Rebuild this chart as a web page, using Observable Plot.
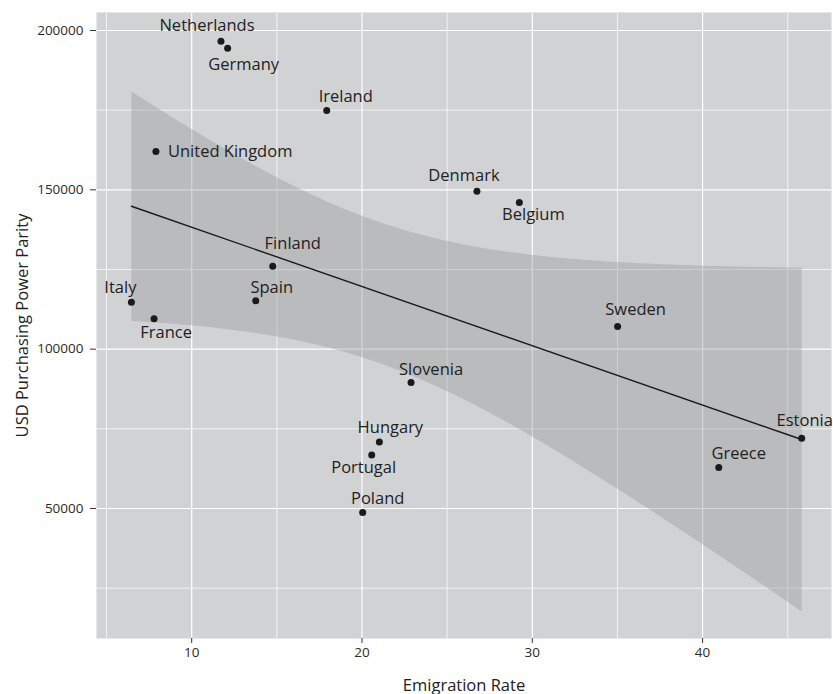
<!DOCTYPE html>
<html>
<head>
<meta charset="utf-8">
<script src="https://cdn.jsdelivr.net/npm/d3@7"></script>
<script src="https://cdn.jsdelivr.net/npm/@observablehq/plot@0.6"></script>
<style>
  html, body { margin: 0; padding: 0; background: #fff; }
  #chart svg { display: block; }
</style>
</head>
<body>
<div id="chart"></div>
<script>
const countries = ["Netherlands","Germany","Ireland","United Kingdom","Finland","Spain","Italy","France","Denmark","Belgium","Sweden","Slovenia","Hungary","Portugal","Poland","Estonia","Greece"];
const emigrationRate = [11.72,12.11,17.93,7.90,14.76,13.76,6.46,7.79,26.75,29.24,35.01,22.88,21.02,20.57,20.04,45.82,40.95];
const ppp = [196640,194440,174890,162020,126020,115160,114720,109510,149560,146010,107100,89510,70900,66820,48710,72030,62840];
const xTicks = [10,20,30,40];
const xMinor = [5,15,25,35,45];
const yTicks = [50000,100000,150000,200000];
const yMinor = [25000,75000,125000,175000];
const xTitle = "Emigration Rate";
const yTitle = "USD Purchasing Power Parity";

// label offsets (pixels) relative to each point
const labelDx = [-14,16,19,12,20,16,-11,12,-13,14,18,20,11,-8,15,3,20];
const labelDy = [-15,16,-14,0,-23,-13,-15,14,-16,12,-17,-13,-14,13,-14,-18,-14];
const labelAnchor = countries.map(c => c === "United Kingdom" ? "start" : "middle");

const data = countries.map((c, i) => ({country: c, x: emigrationRate[i], y: ppp[i]}));

const font = "'Open Sans', 'DejaVu Sans', sans-serif";

const labelMarks = data.map((d, i) => Plot.text([d], {
  x: "x", y: "y", text: "country",
  dx: labelDx[i], dy: labelDy[i],
  textAnchor: labelAnchor[i],
  fill: "#222222", fontSize: 16.5, fontFamily: font
}));

const chart = Plot.plot({
  width: 833,
  height: 694,
  marginLeft: 96,
  marginTop: 12,
  marginRight: 2,
  marginBottom: 56,
  style: {fontFamily: font, fontSize: "13px", color: "#2a2a2a", background: "#fff"},
  x: {domain: [4.41, 47.57], label: null},
  y: {domain: [9200, 205650], label: null},
  marks: [
    Plot.frame({fill: "#d1d2d4", stroke: null}),
    Plot.gridX(xMinor, {stroke: "#f2f2f2", strokeOpacity: 1, strokeWidth: 1}),
    Plot.gridY(yMinor, {stroke: "#f2f2f2", strokeOpacity: 1, strokeWidth: 1}),
    Plot.gridX(xTicks, {stroke: "#ffffff", strokeOpacity: 1, strokeWidth: 1.2}),
    Plot.gridY(yTicks, {stroke: "#ffffff", strokeOpacity: 1, strokeWidth: 1.2}),
    Plot.linearRegressionY(data, {x: "x", y: "y", ci: 0.95, stroke: "#1a1a1a", strokeWidth: 1.4, fill: "#999999", fillOpacity: 0.4}),
    Plot.dot(data, {x: "x", y: "y", r: 3.5, fill: "#1a1a1a", stroke: null}),
    ...labelMarks,
    Plot.axisX(xTicks, {tickSize: 5, tickPadding: 4, fontSize: 13.5, stroke: "#333", label: xTitle, labelArrow: "none", labelAnchor: "center", labelOffset: 52, tickFormat: d => String(d)}),
    Plot.axisY(yTicks, {tickSize: 6, tickPadding: 7, fontSize: 13.5, stroke: "#333", label: yTitle, labelArrow: "none", labelAnchor: "center", labelOffset: 80, tickFormat: d => String(d)})
  ]
});

// axis titles: larger font, no arrows
chart.querySelectorAll("g[aria-label='x-axis label'] text, g[aria-label='y-axis label'] text").forEach(t => {
  t.textContent = t.textContent.replace(/\s*[→←↑↓]\s*/g, "").trim();
  t.setAttribute("font-size", "16.5");
  t.style.fontSize = "16.5px";
  t.setAttribute("fill", "#222222");
});
document.getElementById("chart").appendChild(chart);
</script>
</body>
</html>
